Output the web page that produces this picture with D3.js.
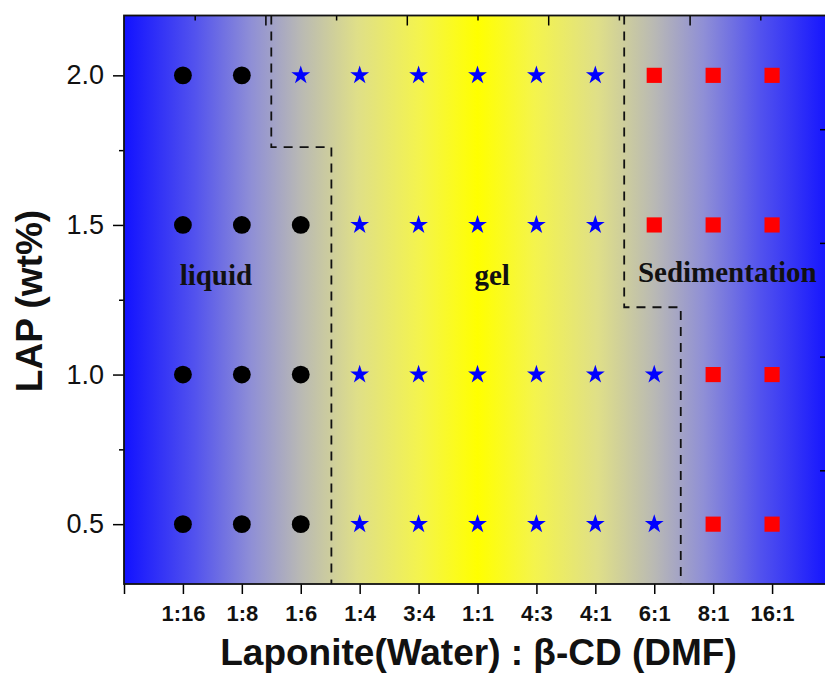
<!DOCTYPE html>
<html>
<head>
<meta charset="utf-8">
<script src="https://cdn.jsdelivr.net/npm/d3@7"></script>
<style>
  body { margin: 0; background: #fff; }
  svg { display: block; }
</style>
</head>
<body>
<div id="chart"></div>
<script>
// x categories: Laponite(Water) : beta-CD (DMF)
const ratios = ['1:16', '1:8', '1:6', '1:4', '3:4', '1:1', '4:3', '4:1', '6:1', '8:1', '16:1']
// y levels, LAP wt%
const lapLevels = [2.0, 1.5, 1.0, 0.5]
const yTicks = [0.5, 1.0, 1.5, 2.0]
// observed state per ratio, one array per LAP level (L = liquid, G = gel, S = sedimentation)
const stateLap20 = ['L', 'L', 'G', 'G', 'G', 'G', 'G', 'G', 'S', 'S', 'S']
const stateLap15 = ['L', 'L', 'L', 'G', 'G', 'G', 'G', 'G', 'S', 'S', 'S']
const stateLap10 = ['L', 'L', 'L', 'G', 'G', 'G', 'G', 'G', 'G', 'S', 'S']
const stateLap05 = ['L', 'L', 'L', 'G', 'G', 'G', 'G', 'G', 'G', 'S', 'S']
// phase boundaries, in [category position, LAP] (categories sit at 1..11)
const liquidGelBoundary = [[2.5, 2.2], [2.5, 1.76], [3.52, 1.76], [3.52, 0.3]]
const gelSedimentBoundary = [[8.49, 2.2], [8.49, 1.225], [9.45, 1.225], [9.45, 0.3]]

const W = 825
const H = 677
const m = { left: 124, top: 15.5, right: 831, bottom: 584 }

const svg = d3.select('#chart').append('svg')
  .attr('width', W)
  .attr('height', H)
  .style('font-family', 'Arial, "Liberation Sans", sans-serif')

const x = d3.scaleLinear().domain([0, ratios.length + 1]).range([m.left, m.right])
const y = d3.scaleLinear().domain([0.3, 2.2]).range([m.bottom, m.top])
const xTop = d3.scaleLinear().domain([0, 10]).range([m.left, m.right])
const yRight = d3.scaleLinear().domain([0, 5]).range([m.bottom, m.top])

// background gradient blue -> yellow -> blue
const defs = svg.append('defs')
const grad = defs.append('linearGradient')
  .attr('id', 'bg')
  .attr('gradientUnits', 'userSpaceOnUse')
  .attr('x1', m.left).attr('x2', m.right).attr('y1', 0).attr('y2', 0)
const halfStops = [
  [0, '#1212ff'], [0.1, '#5252ee'], [0.18, '#8f8fd6'], [0.25, '#b9b9b4'],
  [0.33, '#dfdf88'], [0.42, '#f4f44c'], [0.5, '#ffff00'],
]
const stops = halfStops.concat(halfStops.slice(0, -1).reverse().map(([o, c]) => [1 - o, c]))
grad.selectAll('stop').data(stops).join('stop')
  .attr('offset', (d) => d[0])
  .attr('stop-color', (d) => d[1])

defs.append('clipPath').attr('id', 'plotClip')
  .append('rect')
  .attr('x', m.left).attr('y', m.top)
  .attr('width', m.right - m.left).attr('height', m.bottom - m.top)

svg.append('rect')
  .attr('x', m.left).attr('y', m.top)
  .attr('width', m.right - m.left).attr('height', m.bottom - m.top)
  .attr('fill', 'url(#bg)')

// dashed phase boundaries
const line = d3.line().x((d) => x(d[0])).y((d) => y(d[1]))
svg.append('g').attr('clip-path', 'url(#plotClip)')
  .selectAll('path')
  .data([liquidGelBoundary, gelSedimentBoundary])
  .join('path')
  .attr('d', line)
  .attr('fill', 'none')
  .attr('stroke', '#111')
  .attr('stroke-width', 1.8)
  .attr('stroke-dasharray', '9,7')

// points
const rows = [stateLap20, stateLap15, stateLap10, stateLap05]
const points = []
rows.forEach((row, i) => {
  row.forEach((s, j) => points.push({ ratio: j + 1, lap: lapLevels[i], state: s }))
})
const markerStyle = {
  L: { type: d3.symbolCircle, size: 250, fill: '#000' },
  G: { type: d3.symbolStar, size: 110, fill: '#0000ff' },
  S: { type: d3.symbolSquare, size: 230, fill: '#ff0000' },
}
svg.append('g').selectAll('path')
  .data(points)
  .join('path')
  .attr('transform', (d) => `translate(${x(d.ratio)},${y(d.lap)})`)
  .attr('d', (d) => d3.symbol(markerStyle[d.state].type, markerStyle[d.state].size)())
  .attr('fill', (d) => markerStyle[d.state].fill)

// region labels
const labels = [
  { text: 'liquid', pos: 1.56, lap: 1.3 },
  { text: 'gel', pos: 6.25, lap: 1.3 },
  { text: 'Sedimentation', pos: 10.24, lap: 1.31 },
]
svg.append('g').selectAll('text')
  .data(labels)
  .join('text')
  .attr('x', (d) => x(d.pos))
  .attr('y', (d) => y(d.lap))
  .attr('text-anchor', 'middle')
  .style('font-family', '"Times New Roman", "Liberation Serif", serif')
  .style('font-weight', 'bold')
  .style('font-size', '29px')
  .attr('fill', '#111')
  .text((d) => d.text)

// left axis
const yAxis = svg.append('g').attr('transform', `translate(${m.left},0)`)
  .call(d3.axisLeft(y).tickValues(yTicks).tickFormat(d3.format('.1f')).tickSize(11).tickPadding(9))
yAxis.selectAll('.tick text').style('font-size', '27px').attr('fill', '#111')
yAxis.selectAll('.tick line').attr('stroke-width', 1.5)
yAxis.select('.domain').remove()
svg.append('g').attr('transform', `translate(${m.left},0)`)
  .call(d3.axisLeft(y).tickValues([0.75, 1.25, 1.75]).tickFormat('').tickSize(5))
  .call((g) => g.select('.domain').remove())
  .selectAll('.tick line').attr('stroke-width', 1.5)

// bottom axis
const xAxis = svg.append('g').attr('transform', `translate(0,${m.bottom})`)
  .call(d3.axisBottom(x).tickValues(d3.range(0, ratios.length + 1))
    .tickFormat((d) => (d === 0 ? '' : ratios[d - 1])).tickSize(10).tickPadding(11))
xAxis.selectAll('.tick text').style('font-size', '22px').style('font-weight', 'bold').attr('fill', '#111')
xAxis.selectAll('.tick line').attr('stroke-width', 1.5)
xAxis.select('.domain').remove()

// top axis, ticks inward
const topAxis = svg.append('g').attr('transform', `translate(0,${m.top})`)
  .call(d3.axisBottom(xTop).tickValues(d3.range(1, 10)).tickFormat('')
    .tickSizeOuter(0).tickSizeInner(0))
topAxis.select('.domain').remove()
topAxis.selectAll('.tick line')
  .attr('y2', (d) => (d % 2 === 0 ? 10 : 5))
  .attr('stroke-width', 1.5)

// right axis, ticks inward
svg.append('g').attr('transform', `translate(${m.right},0)`)
  .call(d3.axisLeft(yRight).tickValues(d3.range(1, 5)).tickFormat('').tickSize(11))
  .call((g) => g.select('.domain').remove())
  .selectAll('.tick line').attr('stroke-width', 1.5)

// frame
svg.append('rect')
  .attr('x', m.left).attr('y', m.top)
  .attr('width', m.right - m.left).attr('height', m.bottom - m.top)
  .attr('fill', 'none')
  .attr('stroke', '#111')
  .attr('stroke-width', 1.8)

// axis titles
svg.append('text')
  .attr('x', (m.left + m.right) / 2 + 1)
  .attr('y', 665)
  .attr('text-anchor', 'middle')
  .style('font-size', '37px')
  .style('font-weight', 'bold')
  .attr('fill', '#111')
  .text('Laponite(Water) : β-CD (DMF)')

svg.append('text')
  .attr('transform', 'translate(42,301) rotate(-90)')
  .attr('text-anchor', 'middle')
  .style('font-size', '37px')
  .style('font-weight', 'bold')
  .attr('fill', '#111')
  .text('LAP (wt%)')
</script>
</body>
</html>
